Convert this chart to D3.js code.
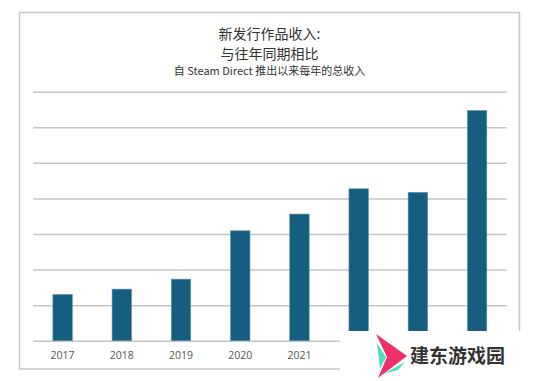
<!DOCTYPE html>
<html>
<head>
<meta charset="utf-8">
<script src="https://cdn.jsdelivr.net/npm/d3@7"></script>
<style>
  html, body { margin: 0; padding: 0; background: #fff; }
  svg { display: block; }
</style>
</head>
<body>
<div id="chart"></div>
<script>
// ---- data ----
const years = ["2017", "2018", "2019", "2020", "2021", "2022", "2023", "2024"];
const revenue = [1.30, 1.45, 1.73, 3.09, 3.56, 4.27, 4.17, 6.47];
const visibleYearLabels = ["2017", "2018", "2019", "2020", "2021"];
const gridTicks = [0, 1, 2, 3, 4, 5, 6, 7];
const titleLines = ["新发行作品收入:", "与往年同期相比"];
const subtitle = "自 Steam Direct 推出以来每年的总收入";
const watermarkText = "建东游戏园";

const W = 540, H = 381;
const font = "'Noto Sans CJK SC', 'Noto Sans', sans-serif";

const svg = d3.select("#chart").append("svg")
  .attr("width", W).attr("height", H);

// frame
svg.append("rect")
  .attr("x", 19.5).attr("y", 12.5)
  .attr("width", 500).attr("height", 356.5)
  .attr("fill", "#fff")
  .attr("stroke", "#c6c6c6")
  .attr("stroke-width", 1.5);

// titles
const cx = 269.5;
svg.selectAll("text.title").data(titleLines).join("text")
  .attr("class", "title")
  .attr("x", cx)
  .attr("y", (d, i) => 38.5 + i * 20.5)
  .attr("text-anchor", "middle")
  .attr("font-family", font)
  .attr("font-size", 14)
  .attr("fill", "#333")
  .text(d => d);

svg.append("text")
  .attr("x", cx).attr("y", 75)
  .attr("text-anchor", "middle")
  .attr("font-family", font)
  .attr("font-size", 11)
  .attr("fill", "#333")
  .text(subtitle);

// scales
const x = d3.scaleBand()
  .domain(years)
  .range([33, 506.7])
  .paddingInner(0.672)
  .paddingOuter(0.336);

const y = d3.scaleLinear()
  .domain([0, 7])
  .range([340.7, 91.7]);

// gridlines (via axis)
const grid = svg.append("g")
  .attr("transform", "translate(33,0)")
  .call(d3.axisLeft(y).tickValues(gridTicks).tickSize(-(506.7 - 33)).tickFormat(""));
grid.select(".domain").remove();
grid.selectAll(".tick line")
  .attr("stroke", "#c4c4c4")
  .attr("stroke-width", 1.5);

// bars
svg.append("g").selectAll("rect").data(years).join("rect")
  .attr("x", d => x(d))
  .attr("width", x.bandwidth())
  .attr("y", (d, i) => y(revenue[i]))
  .attr("height", (d, i) => y(0) - y(revenue[i]))
  .attr("fill", "#165e80")
  .attr("stroke", "#5a91ad")
  .attr("stroke-width", 0.6);

// x axis labels (the last three are hidden by the watermark in the reference)
const xAxis = svg.append("g")
  .attr("transform", `translate(0,${y(0)})`)
  .call(d3.axisBottom(x).tickValues(visibleYearLabels).tickSize(0).tickPadding(11));
xAxis.select(".domain").remove();
xAxis.selectAll("text")
  .attr("font-family", "'Open Sans', 'Noto Sans', sans-serif")
  .attr("font-size", 10.5)
  .attr("fill", "#555");

// watermark
const wm = svg.append("g");
wm.append("rect")
  .attr("x", 340).attr("y", 331)
  .attr("width", W - 340).attr("height", H - 331)
  .attr("fill", "#fff");
wm.append("path")
  .attr("d", "M376,334 L407,356 L378,378 L387,357 Z")
  .attr("fill", "#f0306a");
wm.append("path")
  .attr("d", "M377,343 L386,357 L380,369 Z")
  .attr("fill", "#4fdcc0");
wm.append("path")
  .attr("d", "M383,374 L405,362 L398,370 Z")
  .attr("fill", "#4fdcc0");
wm.append("text")
  .attr("x", 410).attr("y", 363)
  .attr("font-family", font)
  .attr("font-size", 19)
  .attr("font-weight", "bold")
  .attr("fill", "#333")
  .text(watermarkText);
</script>
</body>
</html>
